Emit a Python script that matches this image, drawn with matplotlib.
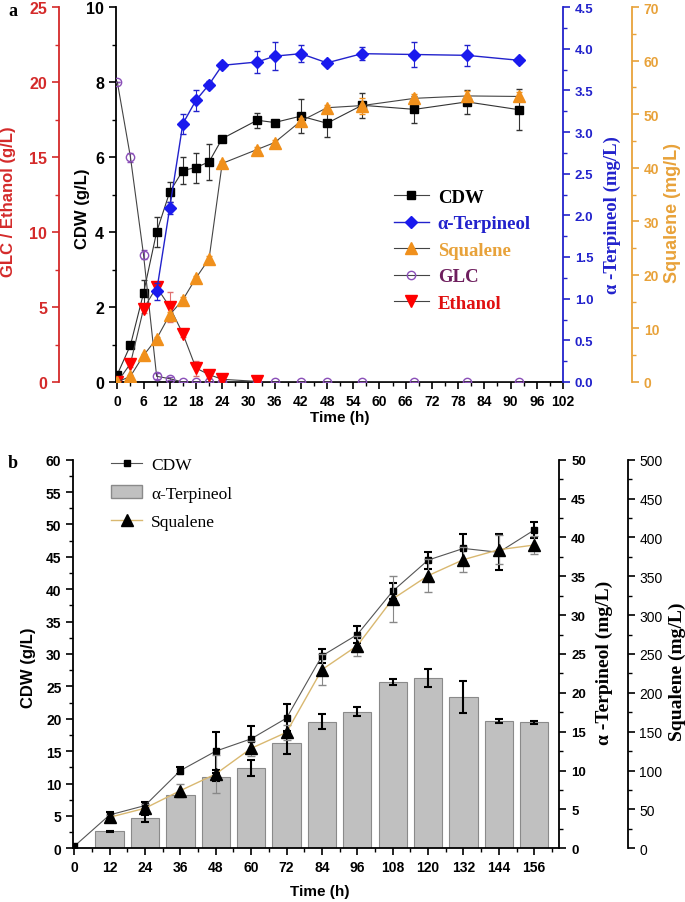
import matplotlib
matplotlib.use("Agg")
import matplotlib.pyplot as plt
from matplotlib.ticker import MultipleLocator
from matplotlib.patches import Patch
from matplotlib.lines import Line2D

plt.rcParams['font.family'] = ['Liberation Sans', 'DejaVu Sans']
SERIF = ['Liberation Serif', 'DejaVu Serif']

# ---- panel a data ----
t_a = [0, 3, 6, 9, 12, 15, 18, 21, 24, 32, 36, 42, 48, 56, 68, 80, 92]
cdw_a = [0.2, 0.98, 2.37, 4.0, 5.07, 5.64, 5.72, 5.87, 6.49, 6.98, 6.92, 7.09, 6.9, 7.38, 7.27, 7.47, 7.26]
cdw_a_err = [0.05, 0.07, 0.35, 0.4, 0.27, 0.35, 0.4, 0.47, 0.05, 0.2, 0.05, 0.45, 0.36, 0.34, 0.35, 0.33, 0.55]

t_terp_a = [9, 12, 15, 18, 21, 24, 32, 36, 42, 48, 56, 68, 80, 92]
terp_a = [1.09, 2.09, 3.1, 3.38, 3.57, 3.8, 3.84, 3.91, 3.94, 3.83, 3.94, 3.93, 3.92, 3.86]
terp_a_err = [0.1, 0.07, 0.12, 0.13, 0.04, 0.03, 0.13, 0.17, 0.1, 0.03, 0.08, 0.15, 0.13, 0.03]

sq_a = [0, 1.06, 4.97, 8.08, 12.55, 15.35, 19.4, 23.0, 40.8, 43.4, 44.7, 48.7, 51.2, 51.6, 52.95, 53.4, 53.3]
sq_a_err = [0, 0.3, 0.3, 0.3, 0.5, 0.5, 0.4, 0.6, 0.4, 0.5, 0.4, 0.5, 0.5, 1.5, 0.8, 0.9, 0.8]

glc_a = [20, 15, 8.48, 0.38, 0.22, 0, 0, 0, 0, 0, 0, 0, 0, 0, 0, 0, 0]
glc_a_err = [0, 0.3, 0.3, 0.2, 0.1, 0, 0, 0, 0, 0, 0, 0, 0, 0, 0, 0, 0]

t_eth_a = [0, 3, 6, 9, 12, 15, 18, 21, 24, 32]
eth_a = [0, 1.22, 4.88, 6.33, 5.0, 3.22, 0.93, 0.49, 0.18, 0.04]
eth_a_err = [0, 0.2, 0.3, 0.3, 1.0, 0.2, 0.5, 0.2, 0.1, 0]

# ---- panel b data ----
t_b = [0, 12, 24, 36, 48, 60, 72, 84, 96, 108, 120, 132, 144, 156]
cdw_b = [0.3, 5.15, 6.6, 12.0, 15.0, 16.9, 20.1, 29.7, 33.0, 39.7, 44.5, 46.3, 45.7, 49.15]
cdw_b_err = [0, 0.4, 0.6, 0.5, 2.9, 2.0, 2.2, 1.1, 1.3, 1.2, 1.3, 2.3, 2.8, 1.2]

t_b2 = [12, 24, 36, 48, 60, 72, 84, 96, 108, 120, 132, 144, 156]
terp_b = [2.19, 3.86, 6.86, 9.13, 10.3, 13.6, 16.3, 17.6, 21.4, 21.9, 19.5, 16.4, 16.2]
terp_b_err = [0.05, 0.43, 0.3, 0.5, 1.0, 1.5, 1.0, 0.58, 0.43, 1.13, 2.08, 0.3, 0.24]
sq_b = [39.9, 51.5, 74.2, 95.6, 128.6, 149.2, 229.8, 260.7, 320.8, 350.8, 371.4, 384.2, 390.2]
sq_b_err = [3, 5, 8, 25, 10, 10, 20, 13, 29, 21, 16, 19, 12]

RED = '#d42a2a'
BLUE = '#2222cc'
ORANGE = '#f0901c'
ORANGE_AX = '#e8a23a'
PURPLE = '#8a4fb8'

fig = plt.figure(figsize=(6.85, 9.03), dpi=100)


def clean_twin(ax, side, pos=None, color='black'):
    for s in ax.spines:
        ax.spines[s].set_visible(False)
    ax.spines[side].set_visible(True)
    ax.spines[side].set_color(color)
    if pos is not None:
        ax.spines[side].set_position(('axes', pos))
    if side == 'left':
        ax.yaxis.tick_left()
        ax.yaxis.set_label_position('left')
    ax.tick_params(axis='y', which='both', colors=color, direction='out')


# ================= panel a =================
ax1 = fig.add_axes([116/685, 1-383/903, 447/685, 375/903])
ax_red = ax1.twinx()
ax_blue = ax1.twinx()
ax_or = ax1.twinx()

for s in ['top', 'right']:
    ax1.spines[s].set_visible(False)
clean_twin(ax_red, 'left', -0.1275, RED)
clean_twin(ax_blue, 'right', None, BLUE)
clean_twin(ax_or, 'right', 1.154, ORANGE_AX)

ax_red.errorbar(t_a, glc_a, yerr=glc_a_err, color='#444444', lw=0.8, marker='o', ms=6,
                mfc='none', mec=PURPLE, mew=1.0, ecolor=PURPLE, elinewidth=0.8, capsize=2.5, label='GLC')
ax_red.errorbar(t_eth_a, eth_a, yerr=eth_a_err, color='#444444', lw=0.8, marker='v', ms=8,
                mfc='red', mec='red', ecolor='#e07070', elinewidth=0.8, capsize=2.5, label='Ethanol')
ax1.errorbar(t_a, cdw_a, yerr=cdw_a_err, color='#333333', lw=0.8, marker='s', ms=6,
             mfc='black', mec='black', ecolor='#333333', elinewidth=0.8, capsize=2.5, label='CDW')
ax_blue.errorbar(t_terp_a, terp_a, yerr=terp_a_err, color=BLUE, lw=1.0, marker='D', ms=6,
                 mfc='#1a1aee', mec='#1a1aee', ecolor=BLUE, elinewidth=0.8, capsize=2.5, label='α-Terpineol')
ax_or.errorbar(t_a, sq_a, yerr=sq_a_err, color='#444444', lw=0.8, marker='^', ms=8,
               mfc=ORANGE, mec=ORANGE, ecolor=ORANGE, elinewidth=0.8, capsize=2.5, label='Squalene')

ax1.set_xlim(-0.3, 102)
ax1.set_ylim(0, 10)
ax_red.set_ylim(0, 25)
ax_blue.set_ylim(0, 4.5)
ax_or.set_ylim(0, 70)

ax1.xaxis.set_major_locator(MultipleLocator(6))
ax1.xaxis.set_minor_locator(MultipleLocator(3))
ax1.yaxis.set_major_locator(MultipleLocator(2))
ax1.yaxis.set_minor_locator(MultipleLocator(1))
ax_red.yaxis.set_major_locator(MultipleLocator(5))
ax_red.yaxis.set_minor_locator(MultipleLocator(2.5))
ax_blue.yaxis.set_major_locator(MultipleLocator(0.5))
ax_blue.yaxis.set_minor_locator(MultipleLocator(0.25))
ax_or.yaxis.set_major_locator(MultipleLocator(10))
ax_or.yaxis.set_minor_locator(MultipleLocator(5))

ax1.tick_params(which='major', length=5, width=1.2)
ax1.tick_params(which='minor', length=3, width=1.0)
for a in (ax_red, ax_blue, ax_or):
    a.tick_params(which='major', length=5, width=1.2)
    a.tick_params(which='minor', length=3, width=1.0)
for a in (ax1, ax_red, ax_blue, ax_or):
    for s in a.spines.values():
        s.set_linewidth(1.3)

ax1.tick_params(axis='x', labelsize=10)
ax1.tick_params(axis='y', labelsize=11.5)
ax_red.tick_params(axis='y', labelsize=11.5)
ax_blue.tick_params(axis='y', labelsize=9.5)
ax_or.tick_params(axis='y', labelsize=10)
for a in (ax1, ax_red, ax_blue, ax_or):
    for lab in a.get_xticklabels() + a.get_yticklabels():
        lab.set_fontweight('bold')

ax1.set_xlabel('Time (h)', fontsize=11, fontweight='bold')
ax1.xaxis.set_label_coords(0.5, -0.093)
ax1.xaxis.label.set_va('center')
ax1.set_ylabel('CDW (g/L)', fontsize=12, fontweight='bold')
ax_red.set_ylabel('GLC / Ethanol (g/L)', fontsize=12, fontweight='bold', color=RED)
ax_blue.set_ylabel('α -Terpineol (mg/L)', fontsize=13.5, fontweight='bold', color=BLUE, family=SERIF)
ax_or.set_ylabel('Squalene (mg/L)', fontsize=13, fontweight='bold', color=ORANGE_AX)
for a, x, y in ((ax1, -0.076, 0.464), (ax_red, -0.24, 0.484), (ax_blue, 1.110, 0.448), (ax_or, 1.246, 0.453)):
    a.yaxis.set_label_coords(x, y)
    a.yaxis.label.set_va('center')

hs = [Line2D([], [], color='#444444', lw=0.8, marker='s', ms=6, mfc='black', mec='black'),
      Line2D([], [], color=BLUE, lw=1.0, marker='D', ms=6, mfc='#1a1aee', mec='#1a1aee'),
      Line2D([], [], color='#444444', lw=0.8, marker='^', ms=8, mfc=ORANGE, mec=ORANGE),
      Line2D([], [], color='#444444', lw=0.8, marker='o', ms=6, mfc='none', mec=PURPLE),
      Line2D([], [], color='#444444', lw=0.8, marker='v', ms=8, mfc='red', mec='red')]
leg = ax_or.legend(hs, ['CDW', 'α-Terpineol', 'Squalene', 'GLC', 'Ethanol'],
                   loc='upper left', bbox_to_anchor=(0.60, 0.54), frameon=False,
                   borderpad=0, handlelength=1.9, handletextpad=0.45, labelspacing=0.5,
                   prop={'family': SERIF, 'weight': 'bold', 'size': 13.5})
for txt, c in zip(leg.get_texts(), ['black', BLUE, ORANGE_AX, '#6e1f5e', '#e01010']):
    txt.set_color(c)

fig.text(8/685, 1-16/903, 'a', fontsize=13, fontweight='bold', family=SERIF)

# ================= panel b =================
bx = fig.add_axes([73.3/685, 1-849.3/903, 486/685, 388.6/903])
bx_t = bx.twinx()
bx_s = bx.twinx()
for s in ['top', 'right']:
    bx.spines[s].set_visible(False)
clean_twin(bx_t, 'right')
clean_twin(bx_s, 'right', 1.1407)

bars = bx_t.bar(t_b2, terp_b, width=9.6, color='#c0c0c0', edgecolor='#8a8a8a', lw=0.8,
                label='α-Terpineol', zorder=1)
bx_t.errorbar(t_b2, terp_b, yerr=terp_b_err, fmt='none', ecolor='black', elinewidth=1.5,
              capsize=3, capthick=1.5, zorder=2)
bx.errorbar(t_b, cdw_b, yerr=cdw_b_err, color='#555555', lw=0.8, marker='s', ms=5,
            mfc='black', mec='black', ecolor='black', elinewidth=1.5, capsize=3, capthick=1.5)
bx_s.errorbar(t_b2, sq_b, yerr=sq_b_err, color='#d9b870', lw=1.0, marker='^', ms=8,
              mfc='black', mec='black', ecolor='#888888', elinewidth=0.8, capsize=3)
bx.set_zorder(bx_t.get_zorder() + 1)
bx.patch.set_visible(False)
bx_s.set_zorder(bx_t.get_zorder() + 2)

bx.set_xlim(-0.3, 164.5)
bx.set_ylim(0, 60)
bx_t.set_ylim(0, 50)
bx_s.set_ylim(0, 500)
bx.xaxis.set_major_locator(MultipleLocator(12))
bx.xaxis.set_minor_locator(MultipleLocator(6))
bx.yaxis.set_major_locator(MultipleLocator(5))
bx.yaxis.set_minor_locator(MultipleLocator(2.5))
bx_t.yaxis.set_major_locator(MultipleLocator(5))
bx_t.yaxis.set_minor_locator(MultipleLocator(2.5))
bx_s.yaxis.set_major_locator(MultipleLocator(50))
bx_s.yaxis.set_minor_locator(MultipleLocator(25))
for a in (bx, bx_t, bx_s):
    a.tick_params(which='major', length=5, width=1.2, direction='out')
    a.tick_params(which='minor', length=3, width=1.0, direction='out')
    for s in a.spines.values():
        s.set_linewidth(1.3)
bx.tick_params(labelsize=10)
bx_t.tick_params(labelsize=9.5)
bx_s.tick_params(labelsize=10)
for a in (bx, bx_t):
    for lab in a.get_xticklabels() + a.get_yticklabels():
        lab.set_fontweight('bold')

bx.set_xlabel('Time (h)', fontsize=11, fontweight='bold')
bx.xaxis.set_label_coords(0.508, -0.11)
bx.xaxis.label.set_va('center')
bx.set_ylabel('CDW (g/L)', fontsize=12, fontweight='bold')
bx_t.set_ylabel('α -Terpineol (mg/L)', fontsize=14, fontweight='bold', family=SERIF)
bx_s.set_ylabel('Squalene (mg/L)', fontsize=14, fontweight='bold', family=SERIF)
for a, x, y in ((bx, -0.093, 0.467), (bx_t, 1.092, 0.479), (bx_s, 1.242, 0.456)):
    a.yaxis.set_label_coords(x, y)
    a.yaxis.label.set_va('center')

hb = [Line2D([], [], color='#555555', lw=0.8, marker='s', ms=5, mfc='black', mec='black'),
      Patch(facecolor='#c0c0c0', edgecolor='#8a8a8a'),
      Line2D([], [], color='#d9b870', lw=1.0, marker='^', ms=8, mfc='black', mec='black')]
bx_s.legend(hb, ['CDW', 'α-Terpineol', 'Squalene'], loc='upper left',
            bbox_to_anchor=(0.06, 1.03), frameon=False, borderpad=0,
            handlelength=1.8, handletextpad=0.5, labelspacing=0.72,
            prop={'family': SERIF, 'size': 12.5})

fig.text(8/685, 1-468/903, 'b', fontsize=13, fontweight='bold', family=SERIF)

fig.savefig('out.png', dpi=100)
